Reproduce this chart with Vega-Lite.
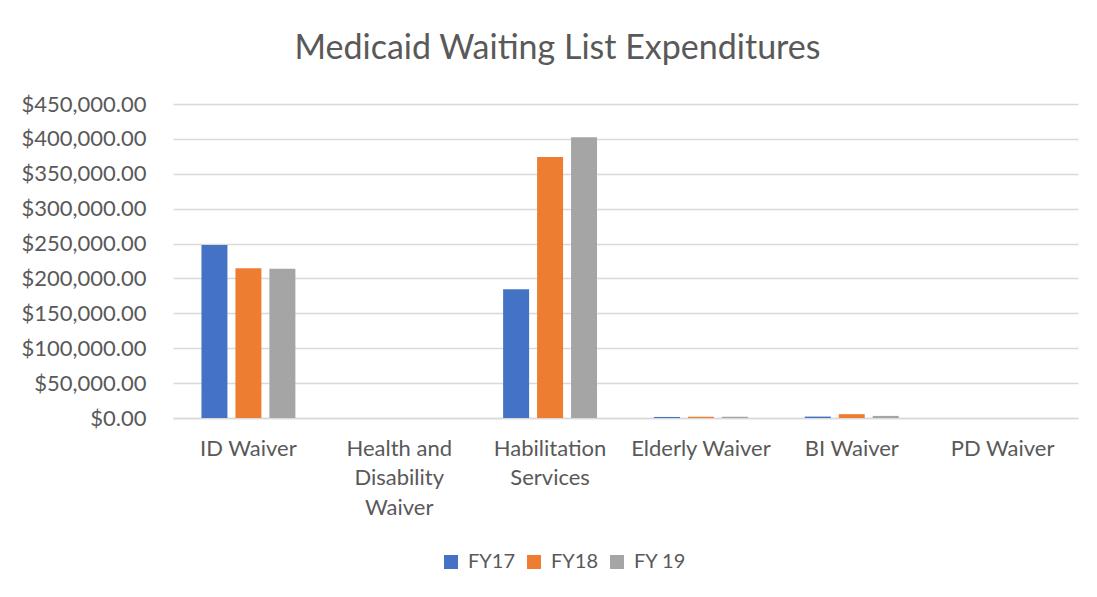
{
  "$schema": "https://vega.github.io/schema/vega-lite/v6.json",
  "width": 905,
  "height": 314,
  "autosize": {"type": "none"},
  "padding": {"left": 173, "top": 104, "right": 19, "bottom": 179},
  "background": "white",
  "title": {
    "text": "Medicaid Waiting List Expenditures",
    "font": "Lato",
    "fontSize": 34,
    "fontWeight": "normal",
    "color": "#595959",
    "anchor": "middle",
    "dx": -68,
    "offset": 27
  },
  "data": {
    "values": [
      {"program": "ID Waiver", "year": "FY17", "amount": 248000},
      {"program": "ID Waiver", "year": "FY18", "amount": 214500},
      {"program": "ID Waiver", "year": "FY 19", "amount": 214000},
      {"program": "Health and Disability Waiver", "year": "FY17", "amount": 0},
      {"program": "Health and Disability Waiver", "year": "FY18", "amount": 0},
      {"program": "Health and Disability Waiver", "year": "FY 19", "amount": 0},
      {"program": "Habilitation Services", "year": "FY17", "amount": 184500},
      {"program": "Habilitation Services", "year": "FY18", "amount": 374000},
      {"program": "Habilitation Services", "year": "FY 19", "amount": 402500},
      {"program": "Elderly Waiver", "year": "FY17", "amount": 1500},
      {"program": "Elderly Waiver", "year": "FY18", "amount": 1800},
      {"program": "Elderly Waiver", "year": "FY 19", "amount": 1800},
      {"program": "BI Waiver", "year": "FY17", "amount": 2000},
      {"program": "BI Waiver", "year": "FY18", "amount": 5500},
      {"program": "BI Waiver", "year": "FY 19", "amount": 3000},
      {"program": "PD Waiver", "year": "FY17", "amount": 0},
      {"program": "PD Waiver", "year": "FY18", "amount": 0},
      {"program": "PD Waiver", "year": "FY 19", "amount": 0}
    ]
  },
  "mark": {"type": "bar"},
  "encoding": {
    "x": {
      "field": "program",
      "type": "nominal",
      "sort": null,
      "scale": {"paddingInner": 0, "paddingOuter": 0},
      "axis": {
        "title": null,
        "labelAngle": 0,
        "labelFont": "Lato",
        "labelFontSize": 22,
        "labelColor": "#595959",
        "labelPadding": 20,
        "labelLineHeight": 29.5,
        "ticks": false,
        "domainColor": "#D9D9D9",
        "domainWidth": 1.5,
        "labelExpr": "datum.value == 'Health and Disability Waiver' ? ['Health and', 'Disability', 'Waiver'] : datum.value == 'Habilitation Services' ? ['Habilitation', 'Services'] : datum.value"
      }
    },
    "xOffset": {
      "field": "year",
      "type": "nominal",
      "sort": ["FY17", "FY18", "FY 19"],
      "scale": {"paddingInner": 0.235, "paddingOuter": 0.838}
    },
    "y": {
      "field": "amount",
      "type": "quantitative",
      "scale": {"domain": [0, 450000]},
      "axis": {
        "title": null,
        "format": "$,.2f",
        "values": [0, 50000, 100000, 150000, 200000, 250000, 300000, 350000, 400000, 450000],
        "labelOverlap": false,
        "labelFlush": false,
        "labelFont": "Lato",
        "labelFontSize": 22,
        "labelColor": "#595959",
        "labelPadding": 27,
        "ticks": false,
        "domain": false,
        "gridColor": "#D9D9D9",
        "gridWidth": 1.5
      }
    },
    "color": {
      "field": "year",
      "type": "nominal",
      "sort": ["FY17", "FY18", "FY 19"],
      "scale": {"domain": ["FY17", "FY18", "FY 19"], "range": ["#4472C4", "#ED7D31", "#A5A5A5"]},
      "legend": {
        "title": null,
        "orient": "none",
        "legendX": 268,
        "legendY": 448,
        "direction": "horizontal",
        "symbolType": "square",
        "symbolSize": 196,
        "symbolStrokeWidth": 0,
        "labelOffset": 7,
        "labelFont": "Lato",
        "labelFontSize": 20,
        "labelColor": "#595959",
        "columnPadding": 9
      }
    }
  },
  "config": {
    "view": {"stroke": null}
  }
}
